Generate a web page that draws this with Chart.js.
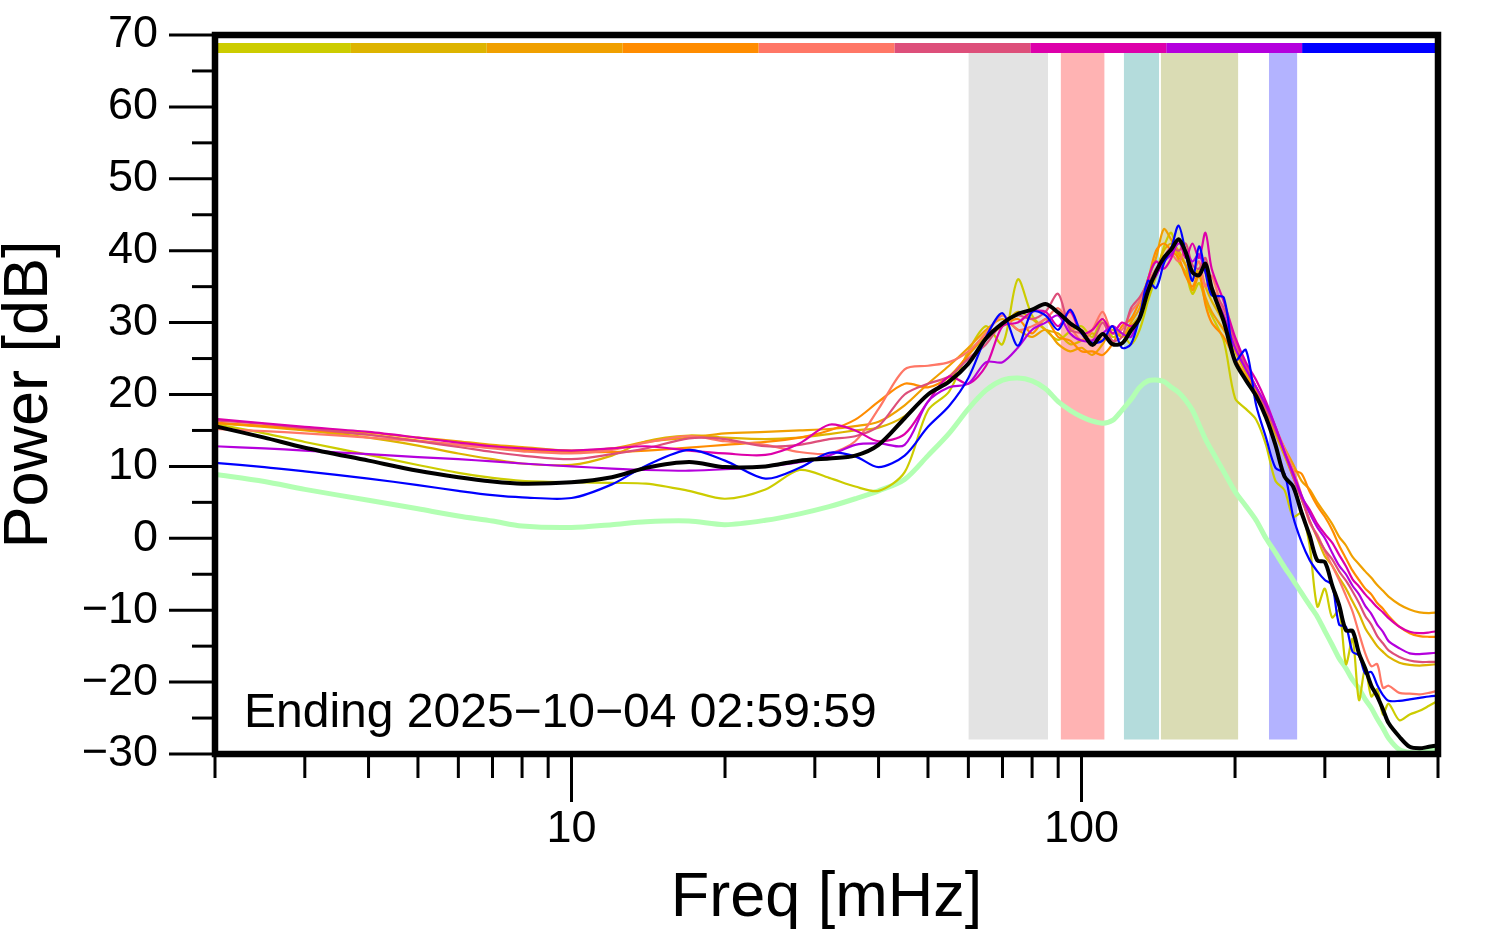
<!DOCTYPE html>
<html><head><meta charset="utf-8">
<script src="https://cdn.jsdelivr.net/npm/chart.js@4.4.0/dist/chart.umd.min.js"></script>
<style>html,body{margin:0;padding:0;background:#fff;}canvas{display:block}</style>
</head><body>
<canvas id="c" width="1494" height="952"></canvas>
<script>
// ---------- data ----------
const freq = [2,2.5,3,4,5,6,7,8,
  10,12,14,17,20,24,28,32,36,40,
  45,50,55,60,65,70,75,80,85,90,95,100,105,110,115,120,125,130,135,140,145,150,155,160,165,170,175,180,
  190,200,210,220,230,240,250,260,270,280,
  290,300,310,320,330,340,350,360,370,380,390,400,
  420,440,460,480,500];

const pYellow = [15.9,14.6,13.4,11.6,10.2,9.1,8.4,8.0,
  7.8,7.7,7.6,6.6,5.5,6.8,9.5,8.4,7.2,6.6,
  9.2,17.8,20.4,26.0,29.5,27.0,36.0,31.0,29.0,27.6,28.8,29.5,28.0,30.5,28.0,28.5,27.0,29.0,33.0,36.5,40.5,42.5,38.5,37.0,34.0,35.5,33.0,31.0,
  27.5,19.5,18.0,16.5,13.0,8.0,6.7,3.0,3.5,-1.0,
  -9.5,-7.0,-11.0,-10.0,-17.5,-14.0,-22.5,-18.0,-22.0,-21.0,-24.5,-23.0,
  -25.3,-24.5,-24.0,-23.3,-22.6];
const pGold = [16.0,15.5,15.0,14.0,12.9,11.8,11.0,10.4,
  10.2,11.5,13.5,14.3,14.0,13.8,14.0,14.5,15.0,15.4,
  17.0,20.0,22.0,25.5,28.0,29.5,31.5,30.5,29.0,28.5,27.0,27.5,28.5,27.5,29.0,28.0,29.5,31.0,34.0,37.0,40.0,41.0,40.0,38.0,36.0,37.5,35.0,33.0,
  30.0,26.0,23.0,20.5,17.5,14.5,11.5,8.5,5.5,2.5,
  0.0,-2.5,-3.8,-5.5,-7.0,-8.8,-10.5,-12.5,-13.8,-15.0,-15.8,-16.5,
  -17.3,-17.6,-17.7,-17.6,-17.5];
const pAmber = [16.0,15.6,15.3,14.7,14.0,13.5,13.0,12.7,
  12.2,12.5,13.4,14.0,14.6,14.8,15.0,15.2,15.6,16.2,
  18.5,21.5,24.0,26.5,29.0,30.5,29.0,28.0,29.0,27.0,26.0,26.5,25.5,27.0,29.5,28.0,30.0,32.0,36.0,39.0,43.0,41.5,39.5,38.0,34.5,36.5,33.5,31.5,
  29.0,26.5,23.5,21.0,17.5,15.0,12.6,10.3,8.0,6.8,
  5.0,3.5,2.0,0.2,-1.0,-2.6,-3.6,-4.6,-5.5,-6.5,-7.3,-8.1,
  -9.2,-9.9,-10.3,-10.4,-10.3];
const pOrange = [16.1,15.6,15.1,14.4,13.6,13.0,12.6,12.3,
  12.0,12.0,12.2,12.6,13.0,13.4,14.0,15.0,16.5,19.0,
  21.5,21.0,22.5,25.5,28.5,29.5,30.5,28.5,30.5,28.0,27.5,26.0,26.0,25.5,27.0,29.5,30.5,33.0,36.0,40.0,41.0,40.0,39.0,36.5,35.0,37.0,32.5,30.0,
  28.0,25.0,22.5,20.5,18.0,15.0,12.0,9.5,9.0,6.5,
  4.5,3.0,1.2,-1.0,-2.8,-4.5,-5.8,-7.0,-7.8,-9.0,-9.8,-10.8,
  -12.3,-13.2,-13.6,-13.7,-13.7];
const pSalmon = [15.2,14.9,14.6,14.0,13.5,13.0,12.5,12.1,
  11.8,12.3,13.3,14.2,13.5,13.0,12.0,11.8,13.5,18.0,
  23.5,24.0,24.5,26.0,28.5,31.0,29.0,29.5,30.5,32.0,29.5,27.5,29.0,31.5,28.5,29.0,31.5,33.0,35.5,37.5,39.0,39.5,38.5,40.0,37.0,38.5,35.0,36.5,
  31.0,27.0,23.5,21.0,18.5,15.5,12.5,9.5,6.0,2.2,
  0.5,-1.8,-3.8,-5.8,-8.0,-10.2,-13.2,-16.0,-17.8,-17.5,-20.8,-20.5,
  -21.5,-21.6,-21.7,-21.5,-21.2];
const pRose = [16.4,15.9,15.3,14.4,13.5,12.7,12.0,11.5,
  11.0,11.7,12.5,13.9,13.8,12.8,13.0,13.8,14.2,15.6,
  20.0,21.5,22.5,25.0,27.0,30.0,31.0,30.5,31.5,34.0,29.0,28.5,27.5,30.0,27.5,28.0,32.0,33.5,35.5,37.0,39.0,40.5,40.0,41.0,38.0,37.5,39.0,35.0,
  32.0,27.5,24.0,21.0,18.0,15.0,12.0,8.5,5.5,2.5,
  0.2,-1.6,-2.9,-4.6,-5.9,-7.4,-9.0,-10.8,-12.0,-13.6,-14.6,-15.6,
  -16.5,-17.0,-17.2,-17.2,-17.2];
const pMagenta = [16.6,16.0,15.5,14.8,14.0,13.3,12.8,12.5,
  12.2,12.5,12.8,12.2,11.8,11.6,13.2,15.8,15.0,13.5,
  14.5,19.0,22.5,21.5,24.0,29.5,30.0,31.5,31.5,29.5,31.5,28.5,29.0,30.5,28.5,30.0,29.5,30.5,36.0,38.5,37.5,39.0,41.5,39.0,41.0,39.0,42.5,37.5,
  33.0,28.0,24.5,22.0,19.0,15.5,12.0,9.0,5.8,4.0,
  2.0,0.6,-0.6,-2.3,-3.9,-5.7,-6.7,-7.8,-8.7,-9.6,-10.3,-11.1,
  -12.3,-13.0,-13.2,-13.1,-12.9];
const pPurple = [12.8,12.5,12.2,11.7,11.3,11.0,10.7,10.4,
  10.0,9.7,9.5,9.4,9.6,10.0,10.6,11.5,13.0,13.2,
  13.0,19.0,21.0,21.5,24.5,24.5,26.5,29.0,30.0,31.0,28.5,27.5,27.5,28.5,29.5,28.5,28.0,31.0,35.0,36.5,38.5,39.5,41.0,40.0,38.5,39.5,37.0,34.5,
  31.0,26.5,23.5,21.0,18.5,15.5,12.0,9.0,6.0,3.5,
  1.5,0.0,-2.0,-3.8,-5.0,-6.6,-7.8,-9.4,-10.5,-12.0,-13.0,-14.3,
  -15.3,-16.0,-16.1,-16.0,-15.9];
const pBlue = [10.5,9.9,9.3,8.3,7.4,6.6,6.0,5.7,
  5.6,7.5,10.1,12.3,10.8,8.3,9.8,11.9,11.4,9.9,
  11.5,15.5,18.4,22.3,28.0,31.3,26.8,31.5,31.0,29.0,31.8,28.5,27.2,27.5,29.5,26.5,27.0,30.8,35.8,34.8,38.2,40.4,43.5,39.8,35.8,40.6,37.0,33.8,
  33.5,24.7,26.2,18.5,14.0,9.8,9.0,3.0,-0.5,-3.0,
  -4.6,-5.8,-6.5,-12.0,-12.3,-15.8,-16.3,-18.8,-18.6,-20.4,-21.8,-22.6,
  -22.6,-22.4,-22.2,-22.0,-21.9];
const pMean = [15.6,14.0,12.6,10.8,9.4,8.5,7.9,7.6,
  7.8,8.5,9.8,10.6,9.9,10.0,10.8,11.1,11.5,13.0,
  16.7,20.0,21.8,24.3,27.8,29.9,31.2,31.8,32.6,31.4,29.9,28.8,26.9,28.4,27.0,27.1,28.9,30.6,34.4,37.1,39.0,40.2,41.6,39.8,37.0,36.6,38.2,34.8,
  30.2,24.6,22.0,19.8,16.8,13.0,8.6,7.2,3.6,0.4,
  -3.1,-3.3,-6.5,-9.3,-12.8,-12.9,-16.0,-18.1,-20.5,-22.0,-23.8,-25.7,
  -27.6,-29.0,-29.2,-29.0,-28.8];
const pMin = [8.9,7.9,6.8,5.3,4.1,3.1,2.4,1.7,
  1.5,1.9,2.3,2.4,1.9,2.5,3.4,4.4,5.5,6.6,
  8.2,11.5,14.6,18.0,20.6,22.0,22.3,21.9,20.8,19.0,17.8,16.9,16.3,16.0,16.4,17.8,19.3,21.0,21.9,22.0,21.8,21.0,20.3,19.2,17.8,15.8,13.8,12.2,
  9.3,6.5,4.5,2.5,0.0,-2.0,-4.0,-5.8,-7.6,-9.3,
  -10.9,-12.9,-14.8,-16.7,-18.1,-19.7,-20.9,-22.4,-23.6,-25.1,-26.4,-27.8,
  -29.4,-29.8,-29.8,-29.5,-29.0];

const seriesList = [pYellow,pGold,pAmber,pOrange,pSalmon,pRose,pMagenta,pPurple,pBlue];
const seriesColors = ['#cccc00','#ddb400','#f0a000','#ff8c00','#ff7766','#dd4f7a','#dd00aa','#b400dd','#0000ff'];
const barEdges = [2,3.694,6.821,12.60,23.27,42.97,79.36,146.6,270.7,500];
const barLevel = 68.2;
const bandRanges = [[60,86],[91,111],[121,142],[143,203],[233,265]];
const bandColors = ['#e3e3e3','#ffb3b3','#b4dcdc','#dadcb4','#b3b3ff'];
const bandTop = 67.5, bandBottom = -28;
const xTickValues = [2,3,4,5,6,7,8,9,10,20,30,40,50,60,70,80,90,100,200,300,400,500];
const xMajor = [10,100];
const yTickValues = [-30,-25,-20,-15,-10,-5,0,5,10,15,20,25,30,35,40,45,50,55,60,65,70];
const endingText = 'Ending 2025\u221210\u221204 02:59:59';

// ---------- build ----------
const FONT = '"Liberation Sans", Arial, Helvetica, sans-serif';
const pts = arr => freq.map((f,i)=>({x:f,y:arr[i]}));
const datasets = [];
datasets.push({data:pts(pMean),borderColor:'#000',borderWidth:4,pointRadius:0,tension:0.3,fill:false,order:0});
seriesList.forEach((s,i)=>{
  datasets.push({data:pts(s),borderColor:seriesColors[i],borderWidth:2.2,pointRadius:0,tension:0.3,fill:false,order:10-i});
});
datasets.push({data:pts(pMin),borderColor:'#b3ffb3',borderWidth:5,pointRadius:0,tension:0.3,fill:false,order:20});
for(let i=0;i<9;i++){
  datasets.push({data:[{x:barEdges[i],y:barLevel},{x:barEdges[i+1],y:barLevel}],borderColor:seriesColors[i],borderWidth:10,borderCapStyle:'butt',pointRadius:0,fill:false,order:30});
}
bandRanges.forEach((b,i)=>{
  datasets.push({data:[{x:b[0],y:bandTop},{x:b[1],y:bandTop}],borderColor:'rgba(0,0,0,0)',borderWidth:0,backgroundColor:bandColors[i],fill:{value:bandBottom},pointRadius:0,order:40});
});

const axisMarks = {
  id:'axisMarks',
  afterDraw(chart){
    const {ctx, chartArea:a, scales:{x,y}} = chart;
    ctx.save();
    ctx.strokeStyle='#000'; ctx.lineWidth=3; ctx.lineCap='butt';
    x.ticks.forEach(t=>{
      const px=x.getPixelForValue(t.value);
      const len = xMajor.includes(t.value)?48:24;
      ctx.beginPath(); ctx.moveTo(px,a.bottom); ctx.lineTo(px,a.bottom+len); ctx.stroke();
    });
    y.ticks.forEach(t=>{
      const py=y.getPixelForValue(t.value);
      const len = (t.value%10===0)?46:23;
      ctx.beginPath(); ctx.moveTo(a.left,py); ctx.lineTo(a.left-len,py); ctx.stroke();
    });
    ctx.lineWidth=6.5;
    ctx.strokeRect(a.left,a.top,a.right-a.left,a.bottom-a.top);
    ctx.fillStyle='#000'; ctx.font='48px '+FONT; ctx.textBaseline='alphabetic'; ctx.textAlign='left';
    ctx.fillText(endingText, a.left+29, a.bottom-27);
    ctx.restore();
  }
};

new Chart(document.getElementById('c'),{
  type:'line',
  data:{datasets},
  options:{
    responsive:false, animation:false, events:[],
    devicePixelRatio:1,
    layout:{padding:{top:35,right:56,left:0,bottom:0}},
    plugins:{legend:{display:false},tooltip:{enabled:false}},
    scales:{
      x:{type:'logarithmic',min:2,max:500,
        afterBuildTicks:s=>{s.ticks=xTickValues.map(v=>({value:v}));},
        afterFit:s=>{s.height=198; s.paddingLeft=0; s.paddingRight=0;},
        grid:{display:false,drawTicks:false},border:{display:false},
        ticks:{autoSkip:false,maxRotation:0,minRotation:0,padding:49,color:'#000',
          font:{family:FONT,size:45,lineHeight:1.2},
          callback:v=>xMajor.includes(v)?String(v):''},
        title:{display:true,text:'Freq [mHz]',color:'#000',font:{family:FONT,size:63,lineHeight:1},padding:{top:0,bottom:22}}
      },
      y:{type:'linear',min:-30,max:70,
        afterBuildTicks:s=>{s.ticks=yTickValues.map(v=>({value:v}));},
        afterFit:s=>{s.width=215; s.paddingTop=0; s.paddingBottom=0;},
        grid:{display:false,drawTicks:false},border:{display:false},
        ticks:{autoSkip:false,padding:57,color:'#000',
          font:{family:FONT,size:45,lineHeight:1.2},
          callback:v=>(v%10===0)?(v<0?'\u2212'+Math.abs(v):String(v)):''},
        title:{display:true,text:'Power [dB]',color:'#000',font:{family:FONT,size:63,lineHeight:1},padding:{top:-2,bottom:0}}
      }
    }
  },
  plugins:[axisMarks]
});
</script>
</body></html>
